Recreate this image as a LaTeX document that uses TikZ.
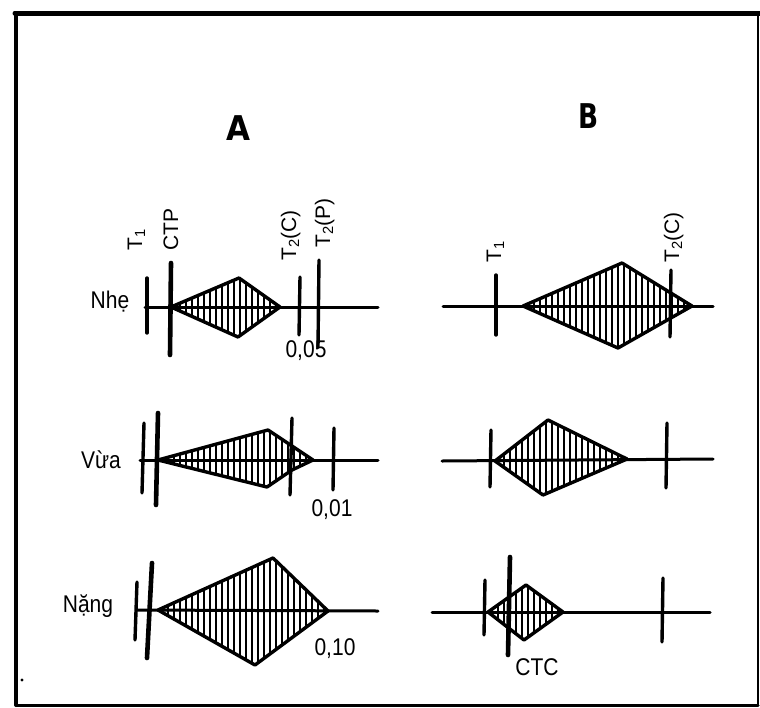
\documentclass[tikz,border=0pt]{standalone}
\usepackage{fontspec}
\setmainfont{Liberation Sans}
\newfontfamily\heavyfont{DejaVu Sans}
\begin{document}
\begin{tikzpicture}[x=1pt,y=-1pt,
  frame/.style={line width=#1, line cap=round},
  axis/.style={line width=3pt, line cap=round},
  tick/.style={line width=3.4pt, line cap=round},
  thicktick/.style={line width=4.6pt, line cap=round},
  outline/.style={line width=3.4pt, line join=round},
  hatchline/.style={line width=2.2pt},
  lbl/.style={font=\fontsize{21}{23}\selectfont, inner sep=0pt, yscale=1.15, transform shape},
  rlbl/.style={font=\fontsize{21}{23}\selectfont, inner sep=0pt, rotate=90, anchor=base west},
  big/.style={font=\heavyfont\fontsize{31}{34}\selectfont\bfseries, inner sep=0pt, yscale=1.1, transform shape}
]
\useasboundingbox (0,0) rectangle (760,707);
\newcommand\hatchdia[1]{%
  \begin{scope}
    \clip #1;
    \foreach \xx in {0,6,...,760} \draw[hatchline] (\xx,0) -- (\xx,707);
  \end{scope}
  \draw[outline] #1;}

% frame
\draw[frame=5pt] (15,13) -- (760,13);
\draw[frame=4pt] (16,13) -- (16,705);
\draw[frame=3pt] (16,705) -- (758,705);
\draw[frame=2pt] (758,13) -- (758,705);
\fill (22,680) circle (1.6pt);

% titles
\node[big] (tA) at (238,128) {A};
\node[big, xscale=0.85] (tB) at (589,116) {B};

% ---------- Panel A ----------
% Row 1: Nhe
\node[lbl] (lNhe) at (110,302) {Nhẹ};
\hatchdia{(171,307) -- (239,278) -- (280,307) -- (238,337) -- cycle}
\draw[axis] (145,307) -- (378,307);
\draw[tick] (147,278) -- (147,333);
\draw[thicktick] (171,263) -- (170,355);
\draw[tick] (300,277) -- (299,335);
\draw[tick] (319,260) -- (318,347);
\node[rlbl] (a1T1) at (142,251) {T\textsubscript{1}};
\node[rlbl] (a1CTP) at (178,251) {CTP};
\node[rlbl] (a1T2C) at (296,261) {T\textsubscript{2}(C)};
\node[rlbl] (a1T2P) at (330,248) {T\textsubscript{2}(P)};
\node[lbl] (a1p) at (306,351) {0,05};

% Row 2: Vua
\node[lbl] (lVua) at (101,460) {Vừa};
\hatchdia{(158,460) -- (268,430) -- (292,446) -- (313,460) -- (292,470) -- (267,487) -- cycle}
\draw[axis] (140,460) -- (378,460);
\draw[tick] (144,423) -- (142,493);
\draw[thicktick] (158,413) -- (156,505);
\draw[tick] (292,418) -- (290,495);
\draw[tick] (334,428) -- (333,490);
\node[lbl] (a2p) at (332,510) {0,01};

% Row 3: Nang
\node[lbl] (lNang) at (88,606) {Nặng};
\hatchdia{(158,610) -- (273,558) -- (328,611) -- (255,665) -- cycle}
\draw[axis] (137,610) -- (378,611);
\draw[tick] (137,582) -- (135,640);
\draw[thicktick] (152,563) -- (147,658);
\node[lbl] (a3p) at (335,649) {0,10};

% ---------- Panel B ----------
% Row 1
\hatchdia{(523,306) -- (622,263) -- (692,306) -- (618,348) -- cycle}
\draw[axis] (443,306) -- (713,306);
\draw[tick] (496,275) -- (496,335);
\draw[tick] (671,270) -- (670,337);
\node[rlbl] (b1T1) at (501,263) {T\textsubscript{1}};
\node[rlbl] (b1T2C) at (679,263) {T\textsubscript{2}(C)};

% Row 2
\hatchdia{(495,461) -- (548,420) -- (627,459) -- (543,495) -- cycle}
\draw[axis] (442,461) -- (713,459);
\draw[tick] (491,430) -- (490,487);
\draw[tick] (667,423) -- (666,488);

% Row 3
\hatchdia{(488,612) -- (526,585) -- (563,612) -- (524,640) -- cycle}
\draw[axis] (432,612) -- (710,612);
\draw[tick] (485,580) -- (484,635);
\draw[thicktick] (510,557) -- (508,655);
\draw[tick] (663,578) -- (662,642);
\node[lbl] (b3CTC) at (537,667) {CTC};
\end{tikzpicture}
\end{document}
